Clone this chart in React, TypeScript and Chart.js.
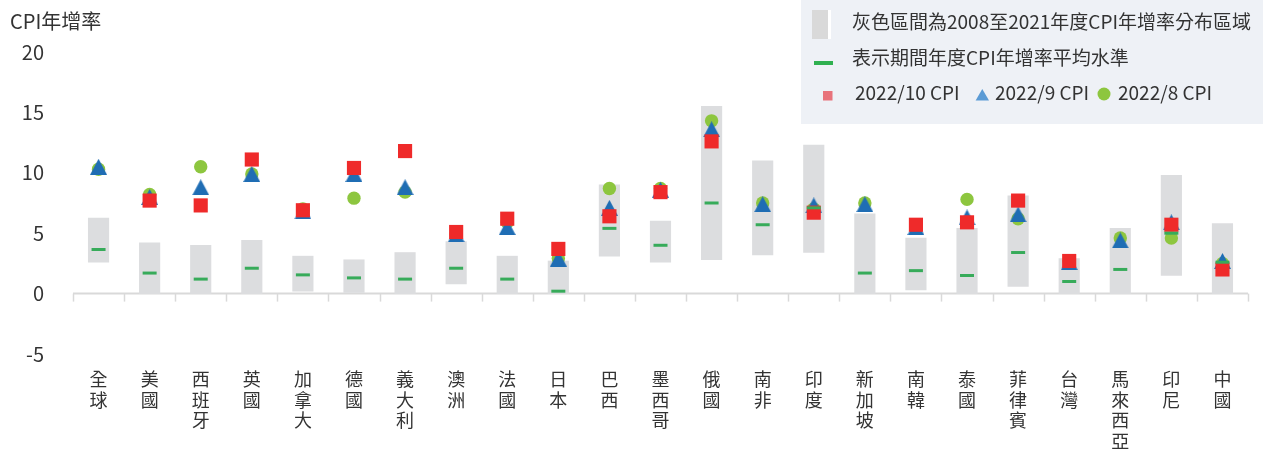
import { useEffect, useRef } from 'react';
import { Chart, registerables } from 'chart.js';

Chart.register(...registerables);

const countries = ['全球', '美國', '西班牙', '英國', '加拿大', '德國', '義大利', '澳洲', '法國', '日本', '巴西', '墨西哥', '俄國', '南非', '印度', '新加坡', '南韓', '泰國', '菲律賓', '台灣', '馬來西亞', '印尼', '中國'];

const rangeLow = [2.6, 0, 0, 0, 0.2, 0.1, 0, 0.8, 0, 0, 3.1, 2.6, 2.8, 3.2, 3.4, 0, 0.3, 0, 0.6, 0, 0, 1.5, 0];
const rangeHigh = [6.25, 4.2, 4.0, 4.4, 3.1, 2.8, 3.4, 4.3, 3.1, 2.7, 9.0, 6.0, 15.5, 11.0, 12.3, 6.6, 4.6, 5.4, 8.1, 2.9, 5.4, 9.8, 5.8];
const meanValues = [3.65, 1.7, 1.2, 2.1, 1.55, 1.3, 1.2, 2.1, 1.2, 0.2, 5.4, 4.0, 7.5, 5.7, 7.1, 1.7, 1.9, 1.5, 3.4, 1.0, 2.0, 5.0, 2.6];
const cpiOct = [null, 7.7, 7.3, 11.1, 6.9, 10.4, 11.8, 5.1, 6.2, 3.7, 6.4, 8.4, 12.6, null, 6.7, null, 5.7, 5.9, 7.7, 2.7, null, 5.7, 2.0];
const cpiSep = [10.5, 8.0, 8.8, 9.9, 6.8, 9.9, 8.8, 4.9, 5.5, 2.9, 7.1, 8.6, 13.6, 7.4, 7.3, 7.4, 5.5, 6.3, 6.55, 2.6, 4.4, 5.9, 2.7];
const cpiAug = [10.3, 8.2, 10.5, 9.9, 7.0, 7.9, 8.4, 4.9, 5.9, 2.9, 8.7, 8.7, 14.3, 7.5, 7.0, 7.5, 5.7, 7.8, 6.2, 2.7, 4.6, 4.6, 2.5];

const yTicks = [-5, 0, 5, 10, 15, 20];

const titleText = 'CPI年增率';
const legendRange = '灰色區間為2008至2021年度CPI年增率分布區域';
const legendMean = '表示期間年度CPI年增率平均水準';
const legendOct = '2022/10 CPI';
const legendSep = '2022/9 CPI';
const legendAug = '2022/8 CPI';

const FONT = '"Noto Sans CJK TC", "Noto Sans", sans-serif';
const TEXT = '#333333';

function makeTriangle(color: string, w: number, h: number) {
  const c = document.createElement('canvas');
  c.width = w;
  c.height = h;
  const ctx = c.getContext('2d')!;
  ctx.fillStyle = color;
  ctx.beginPath();
  ctx.moveTo(w / 2, 0);
  ctx.lineTo(w, h);
  ctx.lineTo(0, h);
  ctx.closePath();
  ctx.fill();
  return c;
}

const axisPlugin = {
  id: 'zeroAxis',
  beforeDatasetsDraw(chart: any) {
    const { ctx, chartArea, scales } = chart;
    const x = scales.x;
    const y = scales.y;
    const y0 = y.getPixelForValue(0);
    const w = x.getPixelForValue(1) - x.getPixelForValue(0);
    const start = x.getPixelForValue(0) - w / 2;
    ctx.save();
    ctx.strokeStyle = '#d9d9d9';
    ctx.lineWidth = 2;
    ctx.beginPath();
    ctx.moveTo(chartArea.left, y0);
    ctx.lineTo(chartArea.right, y0);
    ctx.stroke();
    ctx.lineWidth = 1.5;
    for (let i = 0; i <= countries.length; i++) {
      const px = Math.round(start + i * w) + 0.5;
      ctx.beginPath();
      ctx.moveTo(px, y0);
      ctx.lineTo(px, y0 + 8);
      ctx.stroke();
    }
    ctx.restore();
  },
};

const overlayPlugin = {
  id: 'overlay',
  afterDraw(chart: any) {
    const { ctx } = chart;
    ctx.save();
    // title
    ctx.fillStyle = TEXT;
    ctx.font = `20px ${FONT}`;
    ctx.textBaseline = 'middle';
    ctx.textAlign = 'left';
    ctx.fillText(titleText, 10, 21);

    // legend box
    ctx.fillStyle = '#eef1f6';
    ctx.fillRect(801, 0, 462, 124);

    ctx.fillStyle = '#d9d9d9';
    ctx.fillRect(812, 10, 16, 29);
    ctx.fillStyle = '#ffffff';
    ctx.fillRect(828, 10, 3, 29);

    ctx.fillStyle = '#2fb050';
    ctx.fillRect(814, 61, 19, 4);

    ctx.fillStyle = '#e8737b';
    ctx.fillRect(823, 91, 9.5, 9.5);

    ctx.fillStyle = '#5b9bd5';
    ctx.beginPath();
    ctx.moveTo(982.3, 89);
    ctx.lineTo(989, 100.5);
    ctx.lineTo(975.6, 100.5);
    ctx.closePath();
    ctx.fill();

    ctx.fillStyle = '#8dc63f';
    ctx.beginPath();
    ctx.arc(1104, 94, 6.5, 0, Math.PI * 2);
    ctx.fill();

    ctx.fillStyle = TEXT;
    ctx.font = `19px ${FONT}`;
    ctx.fillText(legendRange, 852, 22);
    ctx.fillText(legendMean, 852, 58);
    ctx.fillText(legendOct, 855, 93);
    ctx.fillText(legendSep, 995, 93);
    ctx.fillText(legendAug, 1118, 93);
    ctx.restore();
  },
};

export default function App() {
  const ref = useRef<HTMLCanvasElement | null>(null);

  useEffect(() => {
    document.body.style.margin = '0';
    const canvas = ref.current;
    if (!canvas) return;
    const tri = makeTriangle('#1f6db4', 17, 16);
    const labels = countries.map((c) => c.split(''));
    const ranges = rangeLow.map((lo, i) => [lo, rangeHigh[i]]);

    const chart = new Chart(canvas, {
      data: {
        labels,
        datasets: [
          {
            type: 'line',
            label: 'mean',
            data: meanValues,
            showLine: false,
            pointStyle: 'line',
            pointRadius: 7,
            pointBorderWidth: 3,
            pointBorderColor: '#37ab5a',
            pointBackgroundColor: '#37ab5a',
            order: 0,
          },
          {
            type: 'line',
            label: legendOct,
            data: cpiOct,
            showLine: false,
            pointStyle: 'rect',
            pointRadius: 10,
            pointBorderWidth: 0,
            pointBackgroundColor: '#ef2a2a',
            order: 1,
          },
          {
            type: 'line',
            label: legendSep,
            data: cpiSep,
            showLine: false,
            pointStyle: tri,
            pointRadius: 9,
            pointBorderWidth: 0,
            order: 2,
          },
          {
            type: 'line',
            label: legendAug,
            data: cpiAug,
            showLine: false,
            pointStyle: 'circle',
            pointRadius: 6.7,
            pointBorderWidth: 0,
            pointBackgroundColor: '#8dc63f',
            order: 3,
          },
          {
            type: 'bar',
            label: 'range',
            data: ranges,
            backgroundColor: '#dcdddf',
            barThickness: 20.5,
            order: 4,
          },
        ],
      } as any,
      options: {
        animation: false,
        responsive: false,
        maintainAspectRatio: false,
        layout: { padding: { top: 52, right: 15, left: 0, bottom: 0 } },
        plugins: {
          legend: { display: false },
          tooltip: { enabled: false },
          title: { display: false },
        },
        scales: {
          x: {
            grid: { display: false },
            border: { display: false },
            ticks: {
              font: { family: FONT, size: 18, lineHeight: 20.5 / 18 },
              color: TEXT,
              padding: 7,
              maxRotation: 0,
              minRotation: 0,
              autoSkip: false,
            },
            afterFit: (s: any) => {
              s.height = 98;
            },
          },
          y: {
            min: -5,
            max: 20,
            afterBuildTicks: (s: any) => {
              s.ticks = yTicks.map((v) => ({ value: v }));
            },
            ticks: {
              font: { family: FONT, size: 20 },
              color: TEXT,
              padding: 21,
            },
            grid: { display: false },
            border: { display: false },
            afterFit: (s: any) => {
              s.width = 73;
            },
          },
        },
      } as any,
      plugins: [axisPlugin, overlayPlugin],
    });
    return () => chart.destroy();
  }, []);

  return <canvas ref={ref} width={1263} height={452} style={{ display: 'block' }} />;
}
